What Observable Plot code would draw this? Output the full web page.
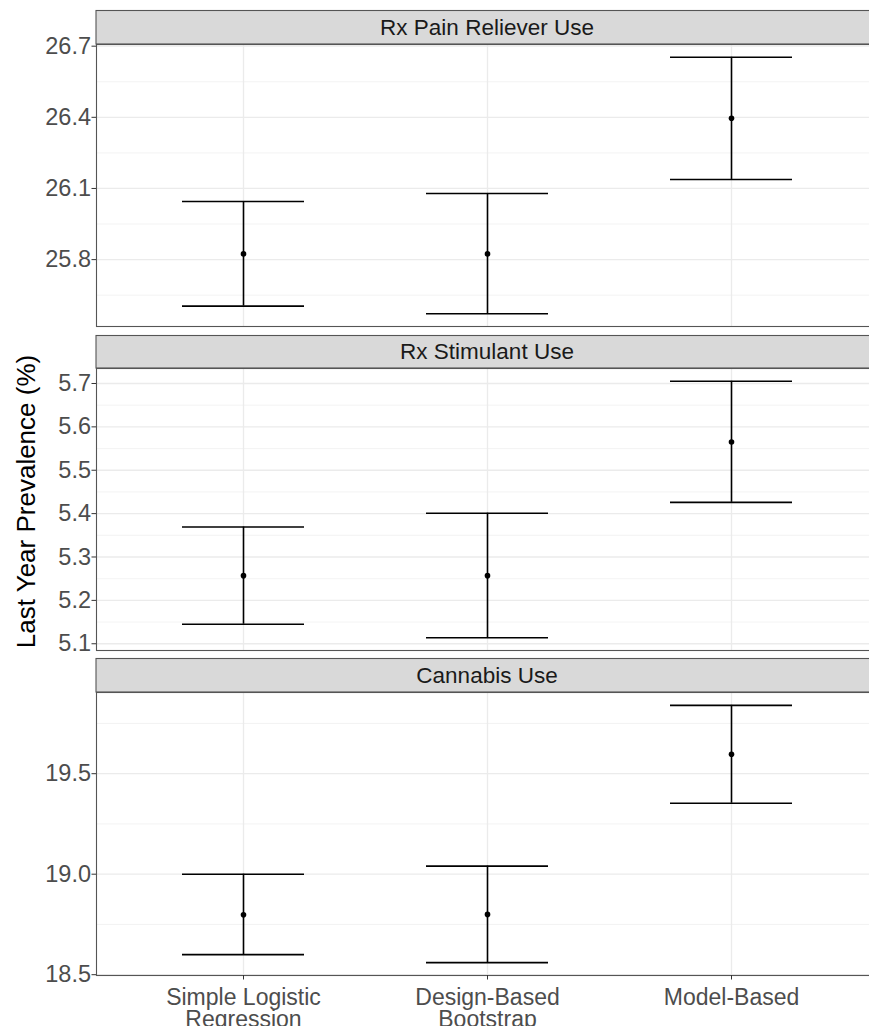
<!DOCTYPE html>
<html>
<head>
<meta charset="utf-8">
<script src="https://cdn.jsdelivr.net/npm/d3@7"></script>
<script src="https://cdn.jsdelivr.net/npm/@observablehq/plot@0.6"></script>
<style>
  html, body { margin: 0; padding: 0; background: #fff; overflow: hidden; }
  #wrap { position: relative; width: 869px; height: 1026px; overflow: hidden; }
  .panel { position: absolute; left: 0; width: 877px; }
  .panel svg { max-width: none !important; }
</style>
</head>
<body>
<div id="wrap"></div>
<script>
// ---- data ----
const methods = ["Simple Logistic Regression", "Design-Based Bootstrap", "Model-Based"];
const methodLabels = ["Simple Logistic\nRegression", "Design-Based\nBootstrap", "Model-Based"];
const outcomes = ["Rx Pain Reliever Use", "Rx Stimulant Use", "Cannabis Use"];
const yTitle = "Last Year Prevalence (%)";

const painEst = [25.824, 25.824, 26.396];
const painLo  = [25.604, 25.572, 26.138];
const painHi  = [26.045, 26.079, 26.653];
const painTicks = [25.8, 26.1, 26.4, 26.7];
const painMinor = [25.65, 25.95, 26.25, 26.55];

const stimEst = [5.257, 5.257, 5.565];
const stimLo  = [5.145, 5.114, 5.426];
const stimHi  = [5.369, 5.401, 5.705];
const stimTicks = [5.1, 5.2, 5.3, 5.4, 5.5, 5.6, 5.7];
const stimMinor = [5.15, 5.25, 5.35, 5.45, 5.55, 5.65];

const canEst = [18.798, 18.800, 19.597];
const canLo  = [18.600, 18.560, 19.353];
const canHi  = [19.000, 19.040, 19.840];
const canTicks = [18.5, 19.0, 19.5];
const canMinor = [18.75, 19.25, 19.75];

// ---- layout ----
const FONT = "'Liberation Sans', Arial, sans-serif";
const W = 877, ML = 96;

const panels = [
  {label: outcomes[0], est: painEst, lo: painLo, hi: painHi, ticks: painTicks, minor: painMinor,
   top: 10, marginTop: 34, height: 325, marginBottom: 9, showX: false, title: false},
  {label: outcomes[1], est: stimEst, lo: stimLo, hi: stimHi, ticks: stimTicks, minor: stimMinor,
   top: 335, marginTop: 33, height: 323, marginBottom: 8, showX: false, title: true},
  {label: outcomes[2], est: canEst, lo: canLo, hi: canHi, ticks: canTicks, minor: canMinor,
   top: 658, marginTop: 34, height: 368, marginBottom: 51, showX: true, title: false}
];

function stripRect(index, scales, values, dims) {
  const g = d3.create("svg:g");
  g.append("rect")
    .attr("x", dims.marginLeft)
    .attr("y", 0.5)
    .attr("width", dims.width - dims.marginLeft - dims.marginRight)
    .attr("height", dims.marginTop - 0.5)
    .attr("fill", "#d9d9d9")
    .attr("stroke", "#555")
    .attr("stroke-width", 1.1);
  return g.node();
}

const wrap = document.getElementById("wrap");

for (const p of panels) {
  const rows = methods.map((m, i) => ({method: m, est: p.est[i], lo: p.lo[i], hi: p.hi[i]}));
  const ymin = d3.min(p.lo), ymax = d3.max(p.hi);
  const pad = (ymax - ymin) * 0.05;

  const marks = [
    stripRect,
    Plot.text([p.label], {frameAnchor: "top", dy: -p.marginTop / 2, lineAnchor: "middle",
      fontSize: 22.5, fill: "#1a1a1a"}),
    Plot.gridY(p.minor, {stroke: "#f0f0f0", strokeOpacity: 1, strokeWidth: 0.8}),
    Plot.gridY(p.ticks, {stroke: "#ebebeb", strokeOpacity: 1, strokeWidth: 1.3}),
    Plot.gridX(methods, {stroke: "#ebebeb", strokeOpacity: 1, strokeWidth: 1.3}),
    Plot.ruleX(rows, {x: "method", y1: "lo", y2: "hi", stroke: "black", strokeWidth: 1.6}),
    Plot.tickY(rows, {x: "method", y: "lo", stroke: "black", strokeWidth: 1.6}),
    Plot.tickY(rows, {x: "method", y: "hi", stroke: "black", strokeWidth: 1.6}),
    Plot.dot(rows, {x: "method", y: "est", r: 2.8, fill: "black", stroke: null}),
    Plot.frame({stroke: "#555", strokeWidth: 1.1}),
    Plot.axisY(p.ticks, {tickFormat: d3.format(".1f"), tickSize: 4.5, tickPadding: 1,
      fontSize: 23.5, label: null, stroke: "#333", fill: "#4d4d4d"})
  ];
  if (p.showX) {
    marks.push(Plot.axisX(methods, {
      tickFormat: (d) => methodLabels[methods.indexOf(d)],
      tickSize: 4.5, tickPadding: 9, fontSize: 23, lineHeight: 0.96,
      label: null, stroke: "#333", fill: "#4d4d4d"
    }));
  }
  if (p.title) {
    marks.push(Plot.text([yTitle], {frameAnchor: "left", textAnchor: "middle", lineAnchor: "middle",
      rotate: -90, dx: -70, dy: -8, fontSize: 26, fill: "black"}));
  }

  const chart = Plot.plot({
    width: W,
    height: p.height,
    marginLeft: ML,
    marginRight: 0,
    marginTop: p.marginTop,
    marginBottom: p.marginBottom,
    style: {fontFamily: FONT, background: "transparent", color: "#4d4d4d", maxWidth: "none", overflow: "visible"},
    x: {type: "band", domain: methods, paddingInner: 0.5, paddingOuter: 0.35, align: 0.5, axis: null},
    y: {domain: [ymin - pad, ymax + pad], axis: null},
    marks
  });
  const div = document.createElement("div");
  div.className = "panel";
  div.style.top = p.top + "px";
  div.appendChild(chart);
  wrap.appendChild(div);
}
</script>
</body>
</html>
